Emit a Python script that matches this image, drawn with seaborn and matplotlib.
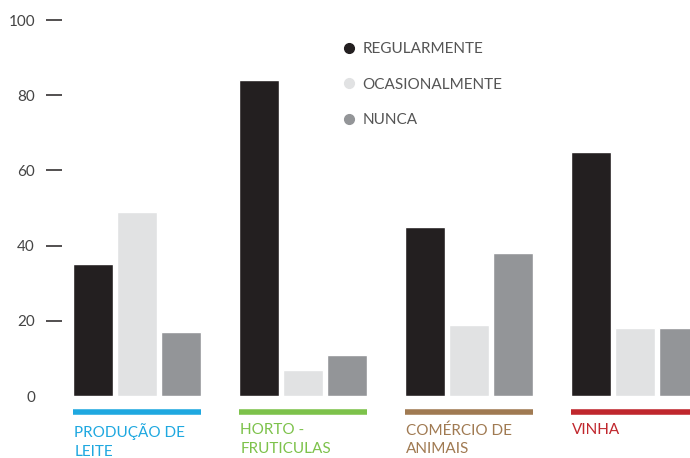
import matplotlib
matplotlib.use("Agg")
import matplotlib.pyplot as plt
import matplotlib.transforms as mtransforms
from matplotlib.lines import Line2D
import pandas as pd
import seaborn as sns

categories = ["PRODUÇÃO DE\nLEITE", "HORTO -\nFRUTICULAS", "COMÉRCIO DE\nANIMAIS", "VINHA"]
series = ["REGULARMENTE", "OCASIONALMENTE", "NUNCA"]
regularmente = [35, 84, 45, 65]
ocasionalmente = [49, 7, 19, 18]
nunca = [17, 11, 38, 18]
y_ticks = [0, 20, 40, 60, 80, 100]

series_colors = ["#231f20", "#e1e2e3", "#939598"]
category_colors = ["#1fa8e0", "#7dc24b", "#a07a52", "#c0272d"]

rows = []
for name, vals in zip(series, [regularmente, ocasionalmente, nunca]):
    for cat, v in zip(categories, vals):
        rows.append({"categoria": cat, "frequencia": name, "valor": v})
df = pd.DataFrame(rows)

sns.set_style("white")
plt.rcParams["font.family"] = ["Lato", "DejaVu Sans"]

W, H = 690, 458
fig = plt.figure(figsize=(W / 100, H / 100), dpi=100)
ax = fig.add_axes([62 / W, (H - 396) / H, 628 / W, 376 / H])

sns.barplot(data=df, x="categoria", y="valor", hue="frequencia",
            order=categories, hue_order=series, palette=series_colors,
            width=0.8, gap=0.09, saturation=1, legend=False, ax=ax)

ax.set_xlim(-0.452, 3.331)
ax.set_ylim(0, 100)
for s in ax.spines.values():
    s.set_visible(False)
ax.set_xlabel("")
ax.set_ylabel("")
ax.set_xticks([])
ax.set_yticks(y_ticks)
ax.set_yticklabels([str(t) for t in y_ticks], color="#444444", fontsize=11)
ax.tick_params(axis="y", direction="out", length=11.5, width=1.1, color="#231f20", pad=8, left=True)
ax.yaxis.get_major_ticks()[0].tick1line.set_visible(False)

# coloured underline and label under each group
trans = mtransforms.blended_transform_factory(ax.transData, ax.transAxes)
for i, (cat, col) in enumerate(zip(categories, category_colors)):
    x0, x1 = i - 0.388, i + 0.388
    ax.plot([x0, x1], [-0.0426, -0.0426], transform=trans, color=col,
            lw=4, solid_capstyle="butt", clip_on=False)
    ax.text(x0 + 0.01, -0.073, cat, transform=trans, color=col, fontsize=11,
            ha="left", va="top", linespacing=1.38)

handles = [Line2D([], [], marker="o", linestyle="none", markersize=7,
                  markerfacecolor=c, markeredgecolor=c) for c in series_colors]
fig.legend(handles, series, loc="upper left", frameon=False,
           bbox_to_anchor=(335 / W, 1 - 36 / H), bbox_transform=fig.transFigure,
           fontsize=11, labelcolor="#555555", labelspacing=1.42,
           handletextpad=0.4, handlelength=1.0, borderaxespad=0)

fig.savefig("out.png", dpi=100)
